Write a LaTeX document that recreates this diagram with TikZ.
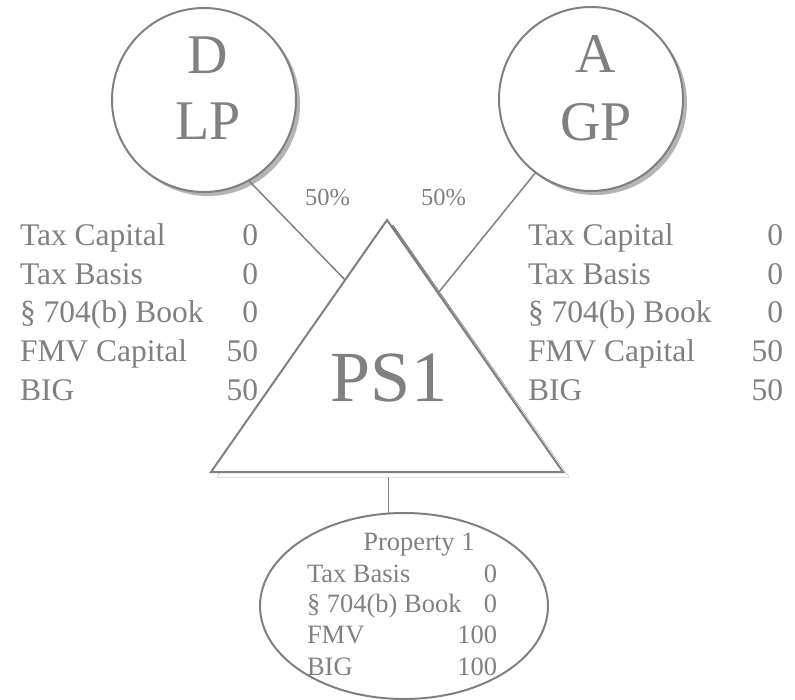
\documentclass[tikz,border=0pt]{standalone}
\usepackage{fontspec}
\setmainfont{Liberation Serif}
\usetikzlibrary{calc,shapes.geometric}
\definecolor{ink}{RGB}{128,128,128}
\definecolor{shade}{RGB}{180,180,180}
\begin{document}
\begin{tikzpicture}[x=1pt,y=-1pt,
  every node/.style={inner sep=0pt, outer sep=0pt, text=ink},
  entity/.style={circle, draw=ink, line width=2pt, fill=white, minimum size=184pt},
  shadowdisc/.style={fill=shade},
  bigtext/.style={font=\fontsize{56}{60}\selectfont, anchor=base},
  pstext/.style={font=\fontsize{72}{80}\selectfont, anchor=base},
  rowtext/.style={font=\fontsize{31.5}{36}\selectfont},
  pctext/.style={font=\fontsize{24.5}{28}\selectfont, anchor=base west},
  proptext/.style={font=\fontsize{26.5}{30}\selectfont},
  conn/.style={draw=ink, line width=1.5pt},
  stem/.style={draw=ink, line width=1pt},
  propshape/.style={ellipse, draw=ink, line width=2pt, minimum width=288pt, minimum height=186pt}
]
\useasboundingbox (0,0) rectangle (795,700);

% partner circles with offset shadows
\fill[shadowdisc] (208,104) circle[radius=92];
\node[entity] (D) at (204,100) {};
\fill[shadowdisc] (595,103) circle[radius=92];
\node[entity] (A) at (591,99) {};

\node[bigtext] (dname) at (208,74) {D};
\node[bigtext] (dtype) at (208,140) {LP};
\node[bigtext] (aname) at (596,73) {A};
\node[bigtext] (atype) at (596,141) {GP};

% partnership triangle
\coordinate (TA) at (387,220);
\coordinate (TL) at (211,472);
\coordinate (TR) at (563,472);
\fill[shade, shift={(6,5)}] (387,220) -- (211,472) -- (563,472) -- cycle;
\draw[ink, line width=2pt, fill=white] (TA) -- (TL) -- (TR) -- cycle;
\node[pstext] (ps) at (389,402) {PS1};

% ownership lines
\coordinate (dEnd) at ($(TA)!0.238!(TL)$);
\coordinate (aEnd) at ($(TA)!0.29!(TR)$);
\draw[conn] (D.-61) -- (dEnd);
\draw[conn] (A.-127) -- (aEnd);
\node[pctext] (dpct) at (305,206) {50\%};
\node[pctext] (apct) at (421,206) {50\%};

% capital accounts
\foreach [count=\i] \lab/\val/\yy in {Tax Capital/0/246, Tax Basis/0/285, {§ 704(b) Book}/0/323, FMV Capital/50/362, BIG/50/400}{
  \node[rowtext, anchor=base west] (ll\i) at (20,\yy) {\lab};
  \node[rowtext, anchor=base east] (lv\i) at (258,\yy) {\val};
  \node[rowtext, anchor=base west] (rl\i) at (528,\yy) {\lab};
  \node[rowtext, anchor=base east] (rv\i) at (783,\yy) {\val};
}

% property held by the partnership
\node[propshape] (P) at (404,606) {};
\coordinate (stemTop) at (388,477);
\draw[stem] (stemTop) -- (stemTop |- P.north);
\node[proptext, anchor=base] (ptitle) at (419,550) {Property 1};
\foreach [count=\i] \lab/\val/\yy in {Tax Basis/0/582, {§ 704(b) Book}/0/612, FMV/100/643, BIG/100/675}{
  \node[proptext, anchor=base west] (pl\i) at (307,\yy) {\lab};
  \node[proptext, anchor=base east] (pv\i) at (497,\yy) {\val};
}
\end{tikzpicture}
\end{document}
